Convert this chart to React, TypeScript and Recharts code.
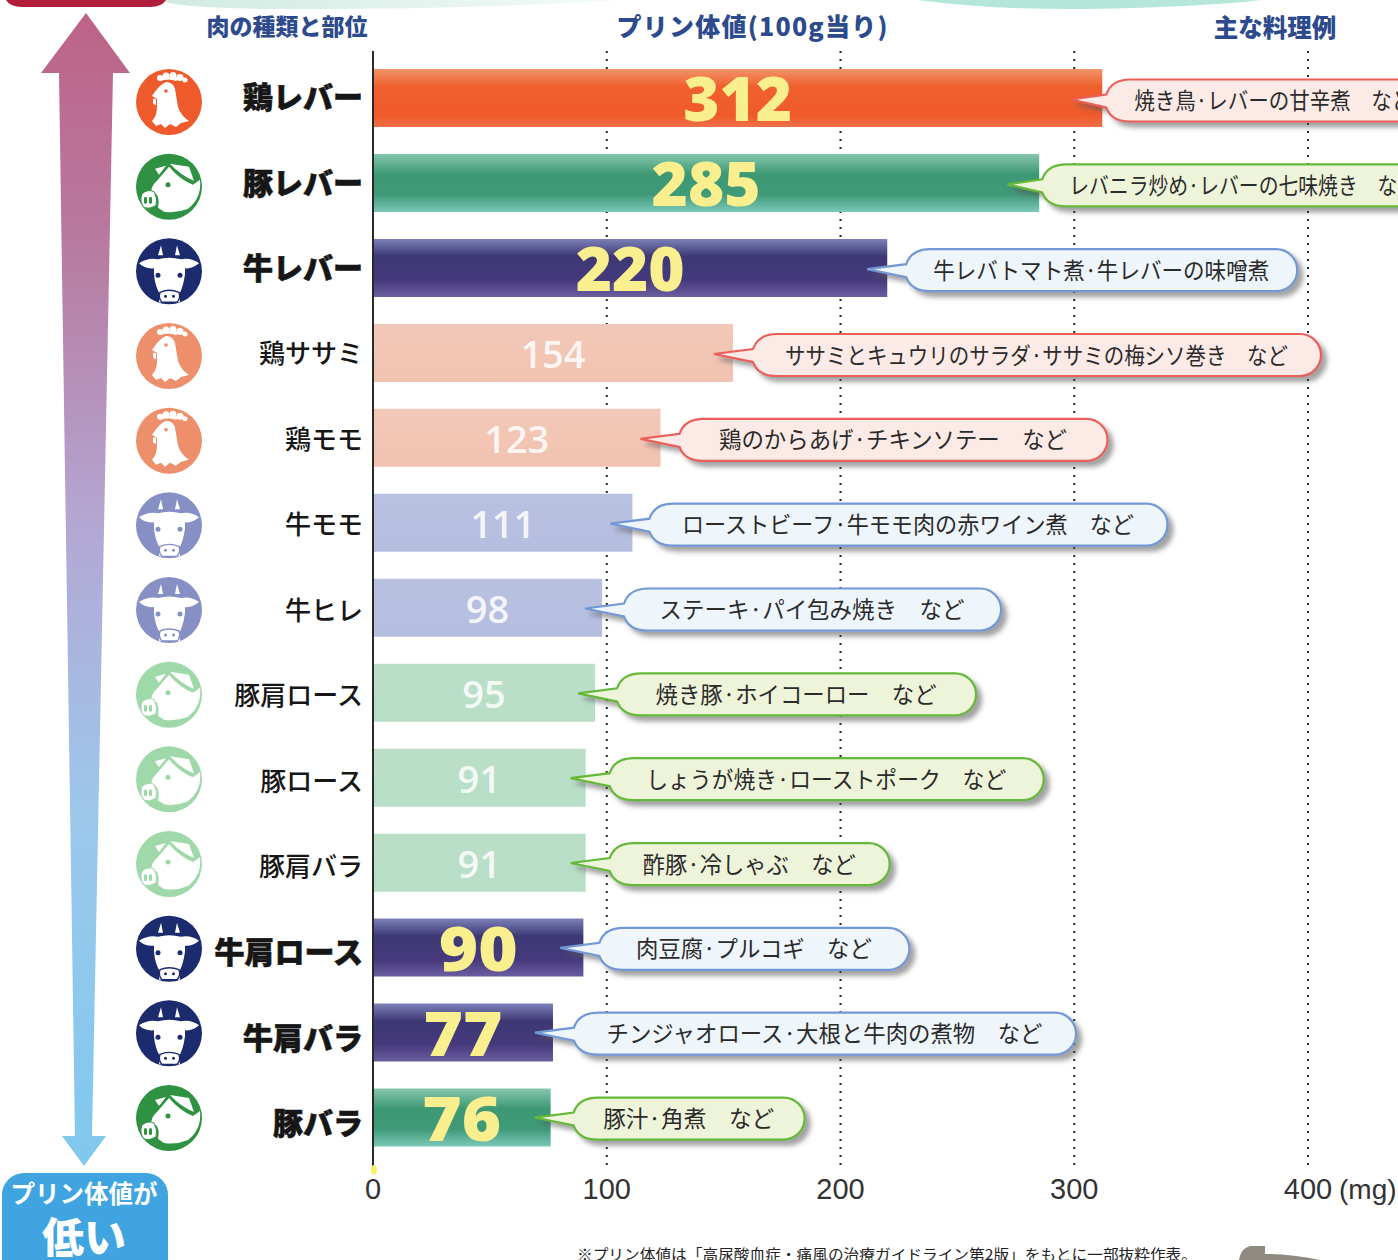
import { Bar, BarChart, CartesianGrid, Cell, LabelList, XAxis, YAxis } from 'recharts';

const meats = ['鶏レバー', '豚レバー', '牛レバー', '鶏ササミ', '鶏モモ', '牛モモ', '牛ヒレ', '豚肩ロース', '豚ロース', '豚肩バラ', '牛肩ロース', '牛肩バラ', '豚バラ'];
const purines = [312, 285, 220, 154, 123, 111, 98, 95, 91, 91, 90, 77, 76];
const animals = ['chicken', 'pig', 'cow', 'chicken', 'chicken', 'cow', 'cow', 'pig', 'pig', 'pig', 'cow', 'cow', 'pig'];
const dishes = [
  '焼き鳥·レバーの甘辛煮　など',
  'レバニラ炒め·レバーの七味焼き　など',
  '牛レバトマト煮·牛レバーの味噌煮',
  'ササミとキュウリのサラダ·ササミの梅シソ巻き　など',
  '鶏のからあげ·チキンソテー　など',
  'ローストビーフ·牛モモ肉の赤ワイン煮　など',
  'ステーキ·パイ包み焼き　など',
  '焼き豚·ホイコーロー　など',
  'しょうが焼き·ローストポーク　など',
  '酢豚·冷しゃぶ　など',
  '肉豆腐·プルコギ　など',
  'チンジャオロース·大根と牛肉の煮物　など',
  '豚汁·角煮　など',
];
const xTicks = [0, 100, 200, 300, 400];

const data = meats.map((name, i) => ({ name, purine: purines[i], animal: animals[i], dish: dishes[i] }));

// callout sizes as printed, px
const dishWidths = [278, 348, 336, 503, 348, 452, 305, 281, 360, 213, 236, 436, 171];
const bubbleWidths = [336, 404, 392, 569, 429, 519, 378, 360, 435, 281, 311, 503, 232];
const bubbleGaps = [3, 2, 18, 19, 18, 16, 21, 21, 23, 23, 15, 20, 22];

const JP = '"Noto Sans CJK JP", "Noto Sans", sans-serif';
const NUM = '"Open Sans", "Noto Sans", sans-serif';
const HELV = '"Liberation Sans", sans-serif';

const isDark = (i: number) => i < 3 || i > 9;

const iconColors: any = {
  chicken: ['#ef5a2c', '#ee8f6c'],
  pig: ['#2f9142', '#9fd9a9'],
  cow: ['#1c2a6e', '#8690c4'],
};
const bubbleColors: any = {
  chicken: { fill: '#fbeae6', stroke: '#ea5f5a' },
  pig: { fill: '#eef4d9', stroke: '#66b83a' },
  cow: { fill: '#eef5fb', stroke: '#7398d6' },
};

const AnimalIcon = ({ kind, cx, cy, color }: any) => {
  const t = `translate(${cx - 33},${cy - 33})`;
  return (
    <g>
      <circle cx={cx} cy={cy} r={33} fill={color} />
      {kind === 'chicken' && (
        <g transform={t} fill="#fff">
          <circle cx={24} cy={9} r={3} />
          <circle cx={30} cy={7} r={3.5} />
          <circle cx={37} cy={6.5} r={3.5} />
          <circle cx={44} cy={8.5} r={3.5} />
          <circle cx={49} cy={11} r={2.5} />
          <path d="M22 9 L46 8 L40 12 Q32 9 24 12 Z" />
          <path d="M30 13 Q37 13 39 20 Q41 32 42 38 Q45 47 53 52 L45 54 L40 58 L34 55 L29 59 L25 55 L20 57 L16 52 Q21 47 21 38 L21 30 L16 27 Q24 15 30 13 Z" />
          <path d="M17 30 q3 -1 3 1 l0 5 q-3 0 -3 -3 z" />
          <circle cx={30} cy={22} r={1.8} fill={color} />
        </g>
      )}
      {kind === 'pig' && (
        <g transform={t} fill="#fff">
          <path d="M19 15 L30 12 L23 21 Z" />
          <path d="M34 10 L53 13 L58 27 Q45 22 34 10 Z" />
          <path d="M21 27 L33 13 Q44 26 57 31 L64 26 Q66 44 52 55 Q40 60 28 58 L22 54 Q24 44 20 40 L15 38 Q16 31 21 27 Z" />
          <path d="M6 40 Q12 35 18 38 Q22 45 20 52 Q13 56 8 54 Q3 48 6 40 Z" stroke={color} strokeWidth={1} />
          <rect x={8} y={43} width={3} height={7} rx={1.5} fill={color} />
          <rect x={13} y={43} width={3} height={7} rx={1.5} fill={color} />
          <circle cx={32} cy={31} r={2.5} fill={color} />
        </g>
      )}
      {kind === 'cow' && (
        <g transform={t} fill="#fff">
          <path d="M22 17 L25 7 L27 17 Z M44 17 L41 7 L39 17 Z" />
          <path d="M3 25 Q12 19 22 21 Q33 18 45 21 Q55 19 63 25 Q56 31 49 30 L49 36 Q47 50 43 56 L44 64 L23 64 L24 56 Q19 48 18 36 L18 30 Q9 31 3 25 Z" />
          <circle cx={22} cy={37} r={2.5} fill={color} />
          <circle cx={44} cy={37} r={2.5} fill={color} />
          <path d="M24 54 Q33 50 43 54 Q45 60 41 64 L26 64 Q22 60 24 54 Z" stroke={color} strokeWidth={1.4} />
          <circle cx={29.5} cy={58} r={1.5} fill={color} />
          <circle cx={37.5} cy={58} r={1.5} fill={color} />
        </g>
      )}
    </g>
  );
};

const MeatTick = ({ y, payload, index }: any) => {
  const i = index;
  const dark = isDark(i);
  const kind = animals[i];
  // scan is a little skewed, icons and labels drift in opposite directions
  const iconY = y + 3.5 - (3.5 * i) / 12;
  const labelY = y - 3 + (6 * i) / 12;
  return (
    <g>
      <AnimalIcon kind={kind} cx={169} cy={iconY} color={iconColors[kind][dark ? 0 : 1]} />
      <text
        x={363}
        y={labelY}
        textAnchor="end"
        dominantBaseline="central"
        fontFamily={JP}
        fontSize={dark ? 30 : 26}
        fontWeight={dark ? 900 : 500}
        fill="#161616"
        stroke={dark ? '#161616' : 'none'}
        strokeWidth={dark ? 0.6 : 0}
      >
        {payload.value}
      </text>
    </g>
  );
};

const PurineTick = ({ x, payload }: any) => (
  <g>
    {payload.value === 0 && <ellipse cx={x + 1} cy={1170} rx={3} ry={5} fill="#f6ee6a" />}
    <text x={x} y={1199} textAnchor="middle" fontFamily={HELV} fontSize={29} fill="#333">
      {payload.value}
    </text>
    {payload.value === 400 && (
      <text x={x + 31} y={1199} fontFamily={HELV} fontSize={28} fill="#333">
        (mg)
      </text>
    )}
  </g>
);

const boxOf = (props: any) => props.viewBox ?? props;

const ValueLabel = (props: any) => {
  const { x, y, width, height } = boxOf(props);
  const i = props.index;
  const dark = isDark(i);
  const stretch = i > 9 ? { textLength: String(props.value).length * 39.5, lengthAdjust: 'spacingAndGlyphs' } : {};
  return (
    <text
      x={x + width / 2}
      y={y + height / 2 + (dark ? -1 : 0)}
      textAnchor="middle"
      dominantBaseline="central"
      fontFamily={NUM}
      fontWeight={dark ? 800 : 600}
      fontSize={dark ? 62 : 38}
      fill={dark ? '#f9ef8e' : '#fff'}
      fillOpacity={dark ? 1 : 0.85}
      {...stretch}
    >
      {props.value}
    </text>
  );
};

const DishBubble = (props: any) => {
  const { x, y, width, height } = boxOf(props);
  const i = props.index;
  const end = x + width;
  const c = bubbleColors[animals[i]];
  const left = end + bubbleGaps[i];
  const tip = left - (i < 2 ? 34 : 38);
  const right = left + bubbleWidths[i];
  const cy = y + height / 2 + 2.5 - (1.5 * i) / 12;
  const top = cy - 21;
  const bottom = cy + 21;
  const r = 21;
  const d = `M${tip} ${cy - 1} L${left + 1} ${cy - 6} Q${left + 6} ${top} ${left + r + 4} ${top} H${right - r} A${r} ${r} 0 0 1 ${right - r} ${bottom} H${left + r + 4} Q${left + 6} ${bottom} ${left + 1} ${cy + 7} Z`;
  return (
    <g>
      <path d={d} fill={c.fill} stroke={c.stroke} strokeWidth={2.2} filter="url(#bubbleShadow)" />
      <text
        x={(left + right) / 2}
        y={cy - 1.5}
        textAnchor="middle"
        dominantBaseline="central"
        fontFamily={JP}
        fontSize={23}
        fill="#2b2b2b"
        textLength={dishWidths[i]}
        lengthAdjust="spacingAndGlyphs"
      >
        {props.value}
      </text>
    </g>
  );
};

const barFill = (i: number) => `url(#${isDark(i) ? 'dark' : 'pale'}-${animals[i]})`;

export default function App() {
  return (
    <div style={{ position: 'absolute', left: 0, top: 0, width: 1398, height: 1260, overflow: 'hidden', background: '#fff' }}>
      <BarChart
        width={1398}
        height={1260}
        data={data}
        layout="vertical"
        margin={{ top: 51, right: 90, bottom: 0, left: 0 }}
        barSize={58}
      >
        <defs>
          <linearGradient id="dark-chicken" x1="0" y1="0" x2="0" y2="1">
            <stop offset="0" stopColor="#f2946a" />
            <stop offset="0.3" stopColor="#f0602e" />
            <stop offset="0.8" stopColor="#f05a2a" />
            <stop offset="1" stopColor="#ee7048" />
          </linearGradient>
          <linearGradient id="dark-pig" x1="0" y1="0" x2="0" y2="1">
            <stop offset="0" stopColor="#86c7ae" />
            <stop offset="0.35" stopColor="#3d9874" />
            <stop offset="0.7" stopColor="#3f9a78" />
            <stop offset="1" stopColor="#7cc8b8" />
          </linearGradient>
          <linearGradient id="dark-cow" x1="0" y1="0" x2="0" y2="1">
            <stop offset="0" stopColor="#7d80b8" />
            <stop offset="0.3" stopColor="#3d3875" />
            <stop offset="0.7" stopColor="#45397c" />
            <stop offset="1" stopColor="#6a5da0" />
          </linearGradient>
          <linearGradient id="pale-chicken" x1="0" y1="0" x2="0" y2="1">
            <stop offset="0" stopColor="#f3c8b8" />
            <stop offset="1" stopColor="#f1c2b0" />
          </linearGradient>
          <linearGradient id="pale-cow" x1="0" y1="0" x2="0" y2="1">
            <stop offset="0" stopColor="#b9c1e1" />
            <stop offset="1" stopColor="#b6bee0" />
          </linearGradient>
          <linearGradient id="pale-pig" x1="0" y1="0" x2="0" y2="1">
            <stop offset="0" stopColor="#bbdec6" />
            <stop offset="1" stopColor="#b8dec8" />
          </linearGradient>
          <linearGradient id="scaleArrow" x1="0" y1="0" x2="0" y2="1">
            <stop offset="0" stopColor="#bd6387" />
            <stop offset="0.2" stopColor="#b87aa0" />
            <stop offset="0.45" stopColor="#b3a8d4" />
            <stop offset="0.7" stopColor="#9cc8ec" />
            <stop offset="1" stopColor="#80c8ee" />
          </linearGradient>
          <linearGradient id="topBandFade" x1="0" y1="0" x2="1" y2="0">
            <stop offset="0" stopColor="#cfeae2" />
            <stop offset="1" stopColor="#f4fbf9" />
          </linearGradient>
          <filter id="bubbleShadow" x="-10%" y="-30%" width="120%" height="170%">
            <feDropShadow dx={5} dy={5} stdDeviation={2.5} floodColor="#555" floodOpacity={0.55} />
          </filter>
        </defs>

        {/* page furniture around the plot */}
        <path d="M160 0 Q175 9 300 9 Q480 9 620 0 Z" fill="url(#topBandFade)" />
        <path d="M918 0 Q990 10 1090 9 Q1200 7 1262 0 Z" fill="#b5e6da" />
        <path d="M6 0 H166 Q162 7 150 7 H22 Q10 7 6 0 Z" fill="#b01e3c" />
        <path
          d="M86 13 L130 73 L113 73 L92 1136 L106 1136 L84 1166 L62 1136 L75 1136 L59 73 L41 73 Z"
          fill="url(#scaleArrow)"
        />
        <rect x={2} y={1173} width={166} height={110} rx={22} fill="#3fa4e0" />
        <text x={84} y={1192} textAnchor="middle" dominantBaseline="central" fontFamily={JP} fontWeight={700} fontSize={24.5} fill="#fff">
          プリン体値が
        </text>
        <text x={84} y={1234} textAnchor="middle" dominantBaseline="central" fontFamily={JP} fontWeight={900} fontSize={42} fill="#fff">
          低い
        </text>
        <text x={287} y={25} textAnchor="middle" dominantBaseline="central" fontFamily={JP} fontWeight={900} fontSize={23} fill="#2c4a8c">
          肉の種類と部位
        </text>
        <text x={752} y={25} textAnchor="middle" dominantBaseline="central" fontFamily={JP} fontWeight={900} fontSize={25} fill="#2c4a8c" textLength={271} lengthAdjust="spacing">
          プリン体値(100g当り)
        </text>
        <text x={1275} y={26} textAnchor="middle" dominantBaseline="central" fontFamily={JP} fontWeight={900} fontSize={24.5} fill="#2c4a8c">
          主な料理例
        </text>
        <text x={577} y={1253} dominantBaseline="central" fontFamily={JP} fontSize={14.5} fill="#222" textLength={620} lengthAdjust="spacingAndGlyphs">
          ※プリン体値は「高尿酸血症・痛風の治療ガイドライン第2版」をもとに一部抜粋作表。
        </text>
        <path d="M1239 1260 Q1241 1248 1250 1246 L1265 1246 L1265 1254 Q1290 1254 1320 1260 Z" fill="#8e8a80" />

        <CartesianGrid horizontal={false} stroke="#222" strokeWidth={2} strokeDasharray="2 6" />
        <XAxis
          type="number"
          domain={[0, 400]}
          ticks={xTicks}
          height={92}
          axisLine={false}
          tickLine={false}
          tick={<PurineTick />}
          interval={0}
        />
        <YAxis
          type="category"
          dataKey="name"
          width={373}
          interval={0}
          padding={{ top: 5, bottom: 7.5 }}
          axisLine={{ stroke: '#2a2a2a', strokeWidth: 2 }}
          tickLine={false}
          tick={<MeatTick />}
        />
        <Bar dataKey="purine" isAnimationActive={false}>
          {data.map((_, i) => (
            <Cell key={i} fill={barFill(i)} />
          ))}
          <LabelList dataKey="dish" content={<DishBubble />} />
          <LabelList dataKey="purine" content={<ValueLabel />} />
        </Bar>
      </BarChart>
    </div>
  );
}
